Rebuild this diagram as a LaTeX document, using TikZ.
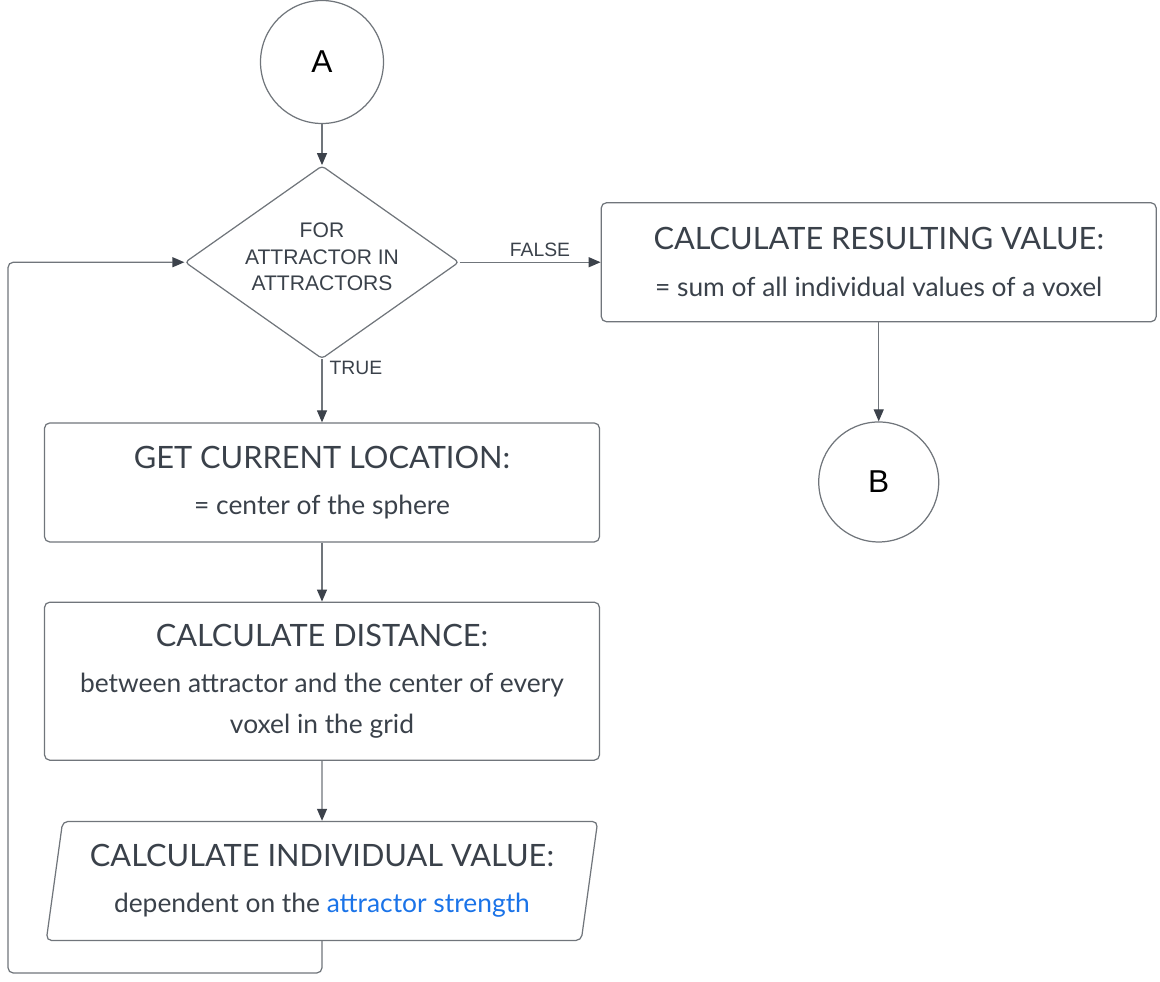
\documentclass[tikz,border=0pt]{standalone}
\usepackage{fontspec}
\setmainfont{Lato}
\newfontfamily\arialfont{Liberation Sans}
\usepackage{tikz}
\usetikzlibrary{arrows.meta, positioning, shapes.geometric, calc}
\usepackage{xcolor}
\definecolor{textgray}{RGB}{58,65,74}
\definecolor{linegray}{RGB}{112,117,123}
\definecolor{tipdark}{RGB}{60,66,75}
\definecolor{linkblue}{RGB}{26,115,232}
\newcommand{\blockhead}[1]{{\fontsize{17.5}{17.5}\selectfont #1}}

\begin{document}
\begin{tikzpicture}[
    node distance=1.2cm and 2.8cm,
    block/.style={rectangle, draw=linegray, line width=0.7pt, rounded corners=3pt,
                  minimum height=2.38cm, minimum width=11.1cm, align=center,
                  text=textgray, font=\fontsize{15}{23.5}\selectfont},
    term/.style={circle, draw=linegray, line width=0.7pt, minimum size=2.46cm,
                 inner sep=0pt, text=black, font=\arialfont\fontsize{18}{20}\selectfont},
    decision/.style={diamond, draw=linegray, line width=0.7pt, rounded corners=2pt,
                     minimum width=5.48cm, minimum height=3.86cm, inner sep=0pt,
                     aspect=1.42, align=center, text=textgray, text depth=0.22cm,
                     font=\arialfont\fontsize{12}{15.3}\selectfont},
    iobox/.style={trapezium, trapezium left angle=80, trapezium right angle=100,
                  trapezium stretches=true, draw=linegray, line width=0.7pt,
                  rounded corners=3pt, minimum height=2.38cm, minimum width=11.06cm,
                  align=center, text=textgray, font=\fontsize{15}{23.5}\selectfont},
    arr/.style={-{Triangle[length=2.4mm, width=2mm, color=tipdark]}, line width=0.7pt, linegray},
    flag/.style={font=\arialfont\fontsize{11}{13}\selectfont, text=textgray, inner sep=2pt},
]
    \useasboundingbox (0,0) rectangle (23.2,-19.62);

    \node[term] (A) at (6.44,-1.24) {A};
    \node[decision, below=0.82cm of A] (loop) {FOR\\ATTRACTOR IN\\ATTRACTORS};
    \node[block, right=2.82cm of loop] (result) {\blockhead{CALCULATE RESULTING VALUE:}\\[3pt]= sum of all individual values of a voxel};
    \node[term, below=1.98cm of result, minimum size=2.4cm] (B) {B};

    \node[block, below=1.26cm of loop] (location) {\blockhead{GET CURRENT LOCATION:}\\[3pt]= center of the sphere};
    \node[block, below=1.18cm of location, minimum height=3.16cm] (distance) {\blockhead{CALCULATE DISTANCE:}\\[3pt]between attractor and the center of every\\voxel in the grid};
    \node[iobox, below=1.2cm of distance] (value) {\blockhead{CALCULATE INDIVIDUAL VALUE:}\\[3pt]dependent on the \textcolor{linkblue}{attractor strength}};

    \coordinate (back) at (0.16,-19.46);

    \draw[arr] (A) -- (loop);
    \draw[arr] (loop.east) -- (result.west) node[pos=0.57, above, flag, yshift=1pt] {FALSE};
    \draw[arr] (loop.south) -- (location.north) node[pos=0.14, right, flag, xshift=2pt] {TRUE};
    \draw[arr] (result) -- (B);
    \draw[arr] (location) -- (distance);
    \draw[arr] (distance) -- (value);
    \draw[arr, rounded corners=3pt] (value.south) |- (back) |- (loop.west);
\end{tikzpicture}
\end{document}
